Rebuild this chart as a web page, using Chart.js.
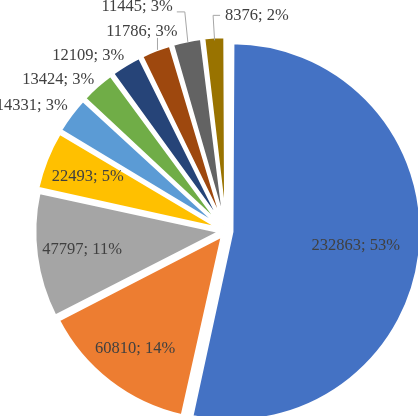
<!DOCTYPE html>
<html>
<head>
<meta charset="utf-8">
<script src="https://cdn.jsdelivr.net/npm/chart.js@4.4.1/dist/chart.umd.min.js"></script>
<style>
html,body{margin:0;padding:0;background:#fff;}
#wrap{width:418px;height:416px;}
</style>
</head>
<body>
<div id="wrap"><canvas id="c" width="418" height="416"></canvas></div>
<script>
// ---- data ----
const categories = ['A', 'B', 'C', 'D', 'E', 'F', 'G', 'H', 'I', 'J'];
const values = [232863, 60810, 47797, 22493, 14331, 13424, 12109, 11786, 11445, 8376];
const sliceColors = ['#4472C4', '#ED7D31', '#A5A5A5', '#FFC000', '#5B9BD5', '#70AD47', '#264478', '#9E480E', '#636363', '#997300'];

// label placement styling (relative to each slice's own geometry)
const labelPlaces = [
  {inside: true, r: 0.68},
  {inside: true, r: 0.78},
  {inside: true, r: 0.76},
  {inside: true, r: 0.78},
  {align: 'right', dx: -7, dy: -12},
  {align: 'right', dx: -6, dy: -10},
  {align: 'right', dx: -4, dy: -14},
  {align: 'right', dx: 20, dy: -23, leader: [[0, -5], [0, -17]]},
  {align: 'right', dx: -15, dy: -39, leader: [[0, -4], [-3, -34], [-11, -34]]},
  {align: 'left', dx: 10.5, dy: -27, leader: [[0, -2], [-1.5, -27], [5.5, -27]]}
];

const OFFSET = 24;

const sliceLabels = {
  id: 'sliceLabels',
  afterDatasetsDraw(chart, args, opts) {
    const ctx = chart.ctx;
    const meta = chart.getDatasetMeta(0);
    const data = chart.data.datasets[0].data;
    const total = data.reduce((a, b) => a + b, 0);
    ctx.save();
    ctx.font = opts.font;
    ctx.textBaseline = 'middle';
    meta.data.forEach((arc, i) => {
      const p = arc.getProps(['x', 'y', 'startAngle', 'endAngle', 'outerRadius'], true);
      const mid = (p.startAngle + p.endAngle) / 2;
      const shift = (arc.options.offset || 0) / 4;
      const cx = p.x + Math.cos(mid) * shift;
      const cy = p.y + Math.sin(mid) * shift;
      const text = data[i] + '; ' + Math.round(data[i] / total * 100) + '%';
      const place = opts.places[i];
      ctx.fillStyle = opts.color;
      if (place.inside) {
        const r = p.outerRadius * place.r;
        ctx.textAlign = 'center';
        ctx.fillText(text, cx + Math.cos(mid) * r, cy + Math.sin(mid) * r);
      } else {
        const ex = cx + Math.cos(mid) * p.outerRadius;
        const ey = cy + Math.sin(mid) * p.outerRadius;
        if (place.leader) {
          ctx.strokeStyle = opts.leaderColor;
          ctx.lineWidth = 1;
          ctx.beginPath();
          place.leader.forEach((pt, k) => {
            if (k === 0) ctx.moveTo(ex + pt[0], ey + pt[1]);
            else ctx.lineTo(ex + pt[0], ey + pt[1]);
          });
          ctx.stroke();
        }
        ctx.textAlign = place.align;
        ctx.fillText(text, ex + place.dx, ey + place.dy);
      }
    });
    ctx.restore();
  }
};

new Chart(document.getElementById('c'), {
  type: 'pie',
  data: {
    labels: categories,
    datasets: [{
      data: values,
      backgroundColor: sliceColors,
      borderColor: '#ffffff',
      borderWidth: 3,
      offset: OFFSET,
      hoverOffset: 0
    }]
  },
  options: {
    responsive: false,
    animation: false,
    devicePixelRatio: 1,
    radius: 183,
    layout: {padding: {left: 34, right: 0, top: 46, bottom: 0}},
    events: [],
    plugins: {
      legend: {display: false},
      tooltip: {enabled: false},
      title: {display: false},
      sliceLabels: {
        font: '16.5px "Liberation Serif", "Times New Roman", serif',
        color: '#404040',
        leaderColor: '#A6A6A6',
        places: labelPlaces
      }
    }
  },
  plugins: [sliceLabels]
});
</script>
</body>
</html>
